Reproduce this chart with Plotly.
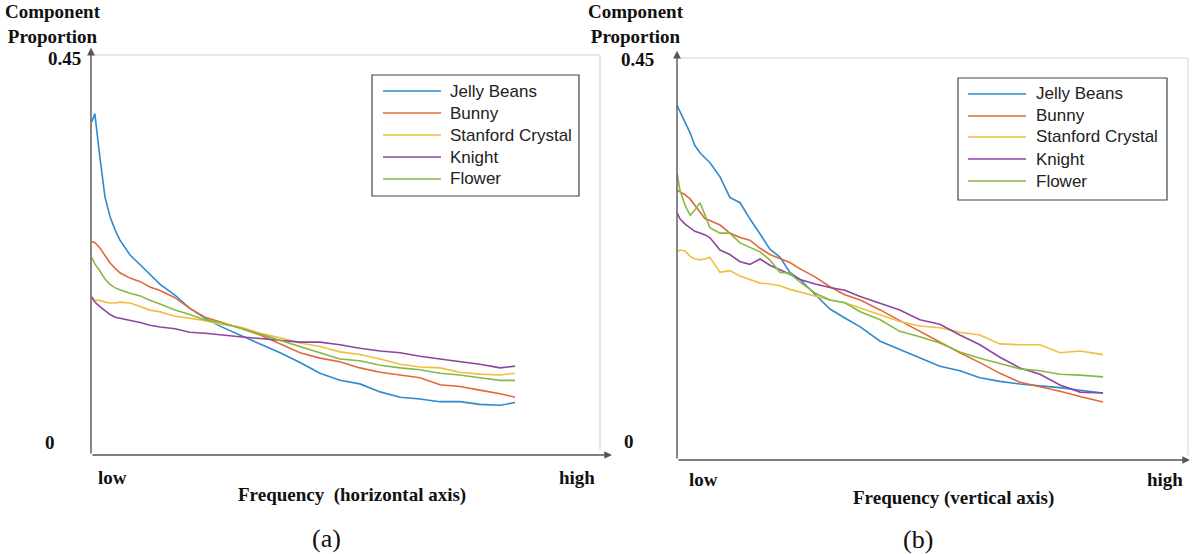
import plotly.graph_objects as go

W, H = 1193, 554

names = ["Jelly Beans", "Bunny", "Stanford Crystal", "Knight", "Flower"]
colors = ["#2E8AD0", "#E2683C", "#F0BE40", "#8E44A0", "#86B943"]

# ---------- panel (a): frequency along horizontal axis ----------
freq_a = [0.002, 0.009, 0.021, 0.033, 0.045, 0.057, 0.068, 0.092, 0.116, 0.139,
          0.163, 0.198, 0.233, 0.269, 0.304, 0.351, 0.399, 0.446, 0.493, 0.540,
          0.587, 0.634, 0.682, 0.729, 0.776, 0.823, 0.870, 0.917, 0.965, 1.000]
jelly_a = [0.375, 0.384, 0.335, 0.290, 0.268, 0.253, 0.242, 0.225, 0.214, 0.203,
           0.192, 0.180, 0.165, 0.154, 0.145, 0.135, 0.125, 0.115, 0.104, 0.092,
           0.084, 0.080, 0.071, 0.065, 0.063, 0.060, 0.060, 0.057, 0.056, 0.059]
bunny_a = [0.240, 0.239, 0.233, 0.225, 0.216, 0.210, 0.205, 0.199, 0.195, 0.189,
           0.185, 0.177, 0.165, 0.155, 0.150, 0.143, 0.135, 0.125, 0.115, 0.109,
           0.105, 0.098, 0.093, 0.090, 0.087, 0.079, 0.077, 0.073, 0.069, 0.065]
crystal_a = [0.177, 0.174, 0.174, 0.172, 0.171, 0.171, 0.172, 0.171, 0.167, 0.163,
             0.161, 0.156, 0.154, 0.151, 0.147, 0.144, 0.137, 0.132, 0.126, 0.122,
             0.116, 0.113, 0.108, 0.102, 0.099, 0.098, 0.093, 0.091, 0.090, 0.092]
knight_a = [0.178, 0.172, 0.167, 0.162, 0.158, 0.155, 0.154, 0.152, 0.149, 0.146,
            0.144, 0.142, 0.138, 0.137, 0.135, 0.133, 0.131, 0.129, 0.127, 0.127,
            0.124, 0.120, 0.117, 0.115, 0.111, 0.108, 0.105, 0.102, 0.098, 0.100]
flower_a = [0.222, 0.215, 0.207, 0.198, 0.192, 0.188, 0.186, 0.182, 0.179, 0.174,
            0.170, 0.163, 0.158, 0.152, 0.149, 0.143, 0.136, 0.129, 0.122, 0.115,
            0.108, 0.106, 0.101, 0.098, 0.096, 0.092, 0.090, 0.087, 0.084, 0.084]

# ---------- panel (b): frequency along vertical axis ----------
freq_b = [0.000, 0.007, 0.019, 0.031, 0.042, 0.054, 0.066, 0.077, 0.101, 0.124,
          0.148, 0.171, 0.195, 0.218, 0.242, 0.265, 0.289, 0.324, 0.359, 0.394,
          0.430, 0.477, 0.523, 0.570, 0.617, 0.664, 0.711, 0.758, 0.805, 0.852,
          0.899, 0.946, 1.000]
jelly_b = [0.397, 0.390, 0.377, 0.366, 0.352, 0.344, 0.338, 0.333, 0.317, 0.294,
           0.288, 0.270, 0.253, 0.236, 0.227, 0.210, 0.202, 0.185, 0.169, 0.159,
           0.149, 0.133, 0.124, 0.114, 0.105, 0.100, 0.092, 0.088, 0.085, 0.083,
           0.081, 0.078, 0.075]
bunny_b = [0.302, 0.300, 0.297, 0.292, 0.285, 0.278, 0.270, 0.268, 0.263, 0.254,
           0.249, 0.246, 0.237, 0.230, 0.225, 0.221, 0.214, 0.205, 0.194, 0.185,
           0.179, 0.168, 0.156, 0.144, 0.132, 0.120, 0.109, 0.097, 0.087, 0.082,
           0.077, 0.071, 0.065]
crystal_b = [0.233, 0.235, 0.234, 0.228, 0.225, 0.224, 0.225, 0.227, 0.210, 0.212,
             0.206, 0.202, 0.198, 0.197, 0.195, 0.191, 0.188, 0.184, 0.179, 0.176,
             0.170, 0.163, 0.155, 0.150, 0.148, 0.143, 0.140, 0.130, 0.129, 0.129,
             0.120, 0.122, 0.118]
knight_b = [0.277, 0.270, 0.264, 0.260, 0.256, 0.254, 0.252, 0.249, 0.235, 0.230,
            0.222, 0.219, 0.225, 0.218, 0.213, 0.208, 0.202, 0.197, 0.193, 0.190,
            0.183, 0.175, 0.168, 0.157, 0.152, 0.140, 0.129, 0.115, 0.103, 0.096,
            0.084, 0.076, 0.075]
flower_b = [0.321, 0.302, 0.285, 0.274, 0.280, 0.288, 0.274, 0.260, 0.254, 0.254,
            0.243, 0.238, 0.233, 0.224, 0.210, 0.209, 0.199, 0.187, 0.179, 0.176,
            0.166, 0.157, 0.144, 0.138, 0.131, 0.121, 0.114, 0.108, 0.102, 0.100,
            0.096, 0.095, 0.093]

series_a = [jelly_a, bunny_a, crystal_a, knight_a, flower_a]
series_b = [jelly_b, bunny_b, crystal_b, knight_b, flower_b]

y_labels = ["0", "0.45"]
x_labels = ["low", "high"]
x_titles = ["Frequency  (horizontal axis)", "Frequency (vertical axis)"]
y_title = "Component<br>Proportion"
captions = ["(a)", "(b)"]

fig = go.Figure()
for name, col, ys in zip(names, colors, series_a):
    fig.add_trace(go.Scatter(x=freq_a, y=ys, mode="lines", name=name,
                             line=dict(color=col, width=1.6), xaxis="x", yaxis="y",
                             showlegend=False))
for name, col, ys in zip(names, colors, series_b):
    fig.add_trace(go.Scatter(x=freq_b, y=ys, mode="lines", name=name,
                             line=dict(color=col, width=1.6), xaxis="x2", yaxis="y2",
                             showlegend=False))


def px(x):
    return x / W


def py(y):
    return 1 - y / H


axis_common = dict(visible=False, fixedrange=True)
fig.update_layout(
    width=W, height=H,
    margin=dict(l=0, r=0, t=0, b=0),
    paper_bgcolor="white", plot_bgcolor="white",
    xaxis=dict(domain=[px(91), px(612)], range=[0, 1.2288], **axis_common),
    yaxis=dict(domain=[py(455), py(55)], range=[0, 0.45], **axis_common),
    xaxis2=dict(domain=[px(677), px(1190)], range=[0, 1.2042], anchor="y2", **axis_common),
    yaxis2=dict(domain=[py(460), py(58)], range=[0, 0.45], anchor="x2", **axis_common),
    showlegend=False,
)

shapes = []
ann = []
axis_col = "#555555"
frame_col = "#e8e8e8"

# faint frames (top and right edges of the axes box)
for xs, ys, xr in [("x", "y", 0.977), ("x2", "y2", 0.996)]:
    shapes.append(dict(type="line", xref=f"{xs} domain", yref=f"{ys} domain",
                       x0=0.005, x1=xr, y0=1, y1=1, line=dict(color=frame_col, width=2)))
    shapes.append(dict(type="line", xref=f"{xs} domain", yref=f"{ys} domain",
                       x0=xr, x1=xr, y0=1, y1=0.012, line=dict(color=frame_col, width=2)))

# axis arrows
for xs, ys in [("x", "y"), ("x2", "y2")]:
    ann.append(dict(xref=f"{xs} domain", yref=f"{ys} domain", x=0, y=1.018,
                    axref=f"{xs} domain", ayref=f"{ys} domain", ax=0, ay=0,
                    text="", showarrow=True, arrowhead=2, arrowsize=1.1,
                    arrowwidth=1.4, arrowcolor=axis_col, standoff=0, startstandoff=0))
    ann.append(dict(xref=f"{xs} domain", yref=f"{ys} domain", x=1, y=0,
                    axref=f"{xs} domain", ayref=f"{ys} domain", ax=0, ay=0,
                    text="", showarrow=True, arrowhead=2, arrowsize=1.1,
                    arrowwidth=1.4, arrowcolor=axis_col, standoff=0, startstandoff=0))

serif_b = dict(family="Liberation Serif, Times New Roman, serif", size=19, color="#111111")
serif_cap = dict(family="Liberation Serif, Times New Roman, serif", size=26, color="#111111")
sans = dict(family="Liberation Sans, Arial, sans-serif", size=17, color="#222222")


def text(x, y, s, font, xanchor="center"):
    ann.append(dict(xref="paper", yref="paper", x=px(x), y=py(y), text=s,
                    showarrow=False, font=font, xanchor=xanchor, yanchor="middle"))


# panel (a) texts
text(53, 24, f"<b>{y_title}</b>", serif_b)
text(64, 59, f"<b>{y_labels[1]}</b>", serif_b)
text(50, 442, f"<b>{y_labels[0]}</b>", serif_b)
text(112, 477, f"<b>{x_labels[0]}</b>", serif_b)
text(577, 477, f"<b>{x_labels[1]}</b>", serif_b)
text(352, 495, f"<b>{x_titles[0]}</b>", serif_b)
text(326, 538, captions[0], serif_cap)

# panel (b) texts
text(636, 24, f"<b>{y_title}</b>", serif_b)
text(637, 60, f"<b>{y_labels[1]}</b>", serif_b)
text(629, 441, f"<b>{y_labels[0]}</b>", serif_b)
text(704, 479, f"<b>{x_labels[0]}</b>", serif_b)
text(1165, 479, f"<b>{x_labels[1]}</b>", serif_b)
text(953, 498, f"<b>{x_titles[1]}</b>", serif_b)
text(918, 539, captions[1], serif_cap)

# legends (drawn boxes)
legend_boxes = [
    dict(x0=372, y0=75, x1=579, y1=196, lx0=383, lx1=441, tx=448, rows=[91, 113, 135, 157, 179]),
    dict(x0=958, y0=78, x1=1167, y1=200, lx0=968, lx1=1026, tx=1034, rows=[94, 116, 137, 159, 181]),
]
for lb in legend_boxes:
    shapes.append(dict(type="rect", xref="paper", yref="paper",
                       x0=px(lb["x0"]), x1=px(lb["x1"]), y0=py(lb["y1"]), y1=py(lb["y0"]),
                       line=dict(color="#444444", width=1.2), fillcolor="white", layer="above"))
    for name, col, ry in zip(names, colors, lb["rows"]):
        shapes.append(dict(type="line", xref="paper", yref="paper",
                           x0=px(lb["lx0"]), x1=px(lb["lx1"]), y0=py(ry), y1=py(ry),
                           line=dict(color=col, width=1.6), layer="above"))
        text(lb["tx"], ry, name, sans, xanchor="left")

fig.update_layout(shapes=shapes, annotations=ann)
fig.write_html("out.html")
